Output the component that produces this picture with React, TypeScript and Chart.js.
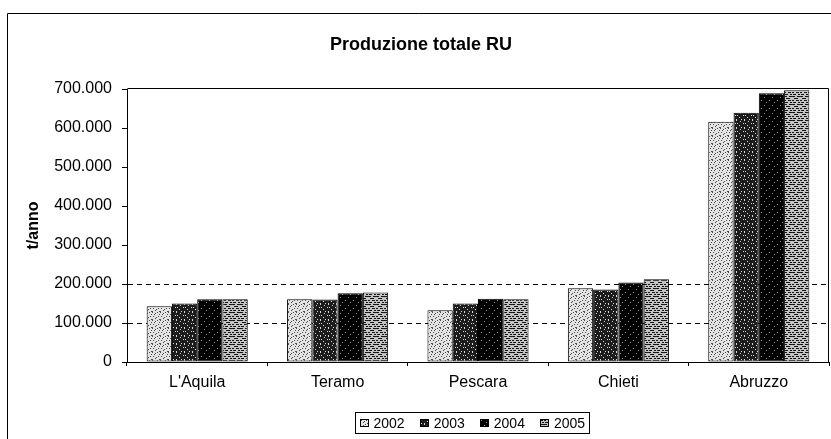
import React, { useEffect, useRef } from "react";
import { Chart, registerables } from "chart.js";

Chart.register(...registerables);

// ---- data ----
const categories = ["L'Aquila", "Teramo", "Pescara", "Chieti", "Abruzzo"];
const seriesLabels = ["2002", "2003", "2004", "2005"];
const values2002 = [143000, 161000, 133000, 189000, 616000];
const values2003 = [150000, 160000, 150000, 186000, 639000];
const values2004 = [161000, 176000, 162000, 204000, 689000];
const values2005 = [161000, 178000, 161000, 212000, 697000];
const yMax = 700000;
const yStep = 100000;
const referenceLines = [100000, 200000];
const chartTitle = "Produzione totale RU";
const yAxisTitle = "t/anno";

// ---- styles ----
const FONT = "'Liberation Sans', Arial, sans-serif";

type Tex = { base: string; fg: string; rows: string[] };
const textures: Tex[] = [
  {
    base: "#e4e4e4",
    fg: "#4a4a4a",
    rows: ["10000100", "00010000", "00100001", "00000000", "01000010", "00001000", "00010000", "10000001"],
  },
  {
    base: "#1c1c1c",
    fg: "#d8d8d8",
    rows: ["10000000", "00001000", "00000000", "01000001", "00000000", "00010000", "00000000", "10000100"],
  },
  {
    base: "#000000",
    fg: "#9a9a9a",
    rows: ["00000000", "00001000", "00000000", "00000000", "01000000", "00000000", "00000010", "00000000"],
  },
  {
    base: "#c4c4c4",
    fg: "#141414",
    rows: ["11100111", "00000000", "00111100", "00000000", "11001110", "00000000", "01110011", "00000000"],
  },
];

function makePattern(t: Tex): CanvasPattern | string {
  const c = document.createElement("canvas");
  c.width = 8;
  c.height = 8;
  const x = c.getContext("2d");
  if (!x) return t.base;
  x.fillStyle = t.base;
  x.fillRect(0, 0, 8, 8);
  x.fillStyle = t.fg;
  t.rows.forEach((r, j) => {
    for (let i = 0; i < r.length; i++) if (r[i] === "1") x.fillRect(i, j, 1, 1);
  });
  const p = x.createPattern(c, "repeat");
  return p || t.base;
}

function fmt(v: number): string {
  return String(Math.round(v)).replace(/\B(?=(\d{3})+(?!\d))/g, ".");
}

const decorPlugin = {
  id: "decor",
  afterDraw(chart: any) {
    const ctx = chart.ctx as CanvasRenderingContext2D;
    const { chartArea } = chart;
    ctx.save();
    ctx.strokeStyle = "#000";
    ctx.lineWidth = 1;
    // outer frame (left + top)
    ctx.beginPath();
    ctx.moveTo(7.5, chart.height);
    ctx.lineTo(7.5, 13.5);
    ctx.lineTo(chart.width, 13.5);
    ctx.stroke();
    // plot area top + right border
    ctx.beginPath();
    ctx.moveTo(Math.round(chartArea.left) + 0.5, Math.round(chartArea.top) - 0.5);
    ctx.lineTo(Math.round(chartArea.right) - 0.5, Math.round(chartArea.top) - 0.5);
    ctx.lineTo(Math.round(chartArea.right) - 0.5, Math.round(chartArea.bottom));
    ctx.stroke();
    // title
    ctx.fillStyle = "#000";
    ctx.font = `bold 18px ${FONT}`;
    ctx.textAlign = "center";
    ctx.textBaseline = "middle";
    ctx.fillText(chartTitle, 421, 45);
    // legend
    ctx.font = `14px ${FONT}`;
    const ds = chart.data.datasets;
    const sw = 9;
    const gapSwText = 5;
    const gapItems = 15;
    const widths = ds.map((d: any) => sw + gapSwText + ctx.measureText(d.label).width);
    const total = widths.reduce((a: number, b: number) => a + b, 0) + gapItems * (ds.length - 1);
    const padX = 4;
    const boxW = total + padX * 2;
    const boxH = 21;
    const boxX = 355.5;
    const boxY = 412.5;
    ctx.strokeRect(boxX, boxY, Math.round(boxW), boxH);
    let x = boxX + padX;
    const cy = boxY + boxH / 2;
    ds.forEach((d: any, i: number) => {
      ctx.fillStyle = d.backgroundColor;
      ctx.fillRect(Math.round(x), Math.round(cy - 4), sw, 8);
      ctx.strokeRect(Math.round(x) + 0.5, Math.round(cy - 4) + 0.5, sw - 1, 7);
      ctx.fillStyle = "#000";
      ctx.textAlign = "left";
      ctx.fillText(d.label, x + sw + gapSwText, cy + 1);
      x += widths[i] + gapItems;
    });
    ctx.restore();
  },
};

export default function App() {
  const ref = useRef<HTMLCanvasElement | null>(null);

  useEffect(() => {
    document.body.style.margin = "0";
    const canvas = ref.current;
    if (!canvas) return;
    const series = [values2002, values2003, values2004, values2005];
    const chart = new Chart(canvas, {
      type: "bar",
      data: {
        labels: categories,
        datasets: series.map((vals, i) => ({
          label: seriesLabels[i],
          data: vals,
          backgroundColor: makePattern(textures[i]) as any,
          borderColor: "#000",
          borderWidth: 1,
          borderSkipped: false,
          categoryPercentage: 0.72,
          barPercentage: 1,
        })),
      },
      options: {
        responsive: false,
        animation: false,
        devicePixelRatio: 1,
        layout: { padding: { left: 8, top: 89, right: 2, bottom: 0 } },
        plugins: {
          legend: { display: false },
          title: { display: false },
          tooltip: { enabled: false },
        },
        scales: {
          x: {
            offset: true,
            grid: {
              display: true,
              drawOnChartArea: false,
              drawTicks: true,
              tickLength: 4,
              color: "#000",
              offset: true,
            },
            border: { display: true, color: "#000", width: 1 },
            ticks: {
              color: "#000",
              font: { family: FONT, size: 16 },
              padding: 7,
              maxRotation: 0,
            },
            afterFit(scale: any) {
              scale.height = 77;
            },
          },
          y: {
            min: 0,
            max: yMax,
            ticks: {
              stepSize: yStep,
              color: "#000",
              font: { family: FONT, size: 16 },
              padding: 10,
              callback: (v: any) => fmt(Number(v)),
            },
            grid: {
              drawTicks: true,
              tickLength: 5,
              tickColor: "#000",
              color: (c: any) =>
                c.tick && referenceLines.includes(c.tick.value) ? "#000" : "rgba(0,0,0,0)",
              lineWidth: 1,
            },
            border: { display: true, color: "#000", width: 1, dash: [5, 4] },
            title: {
              display: true,
              text: yAxisTitle,
              color: "#000",
              font: { family: FONT, size: 16, weight: "bold" },
              padding: { top: 16, bottom: 0 },
            },
            afterFit(scale: any) {
              scale.width = 119;
            },
          },
        },
      },
      plugins: [decorPlugin],
    });
    return () => chart.destroy();
  }, []);

  return (
    <div style={{ width: 831, height: 439, background: "#fff" }}>
      <canvas ref={ref} width={831} height={439} style={{ display: "block" }} />
    </div>
  );
}
